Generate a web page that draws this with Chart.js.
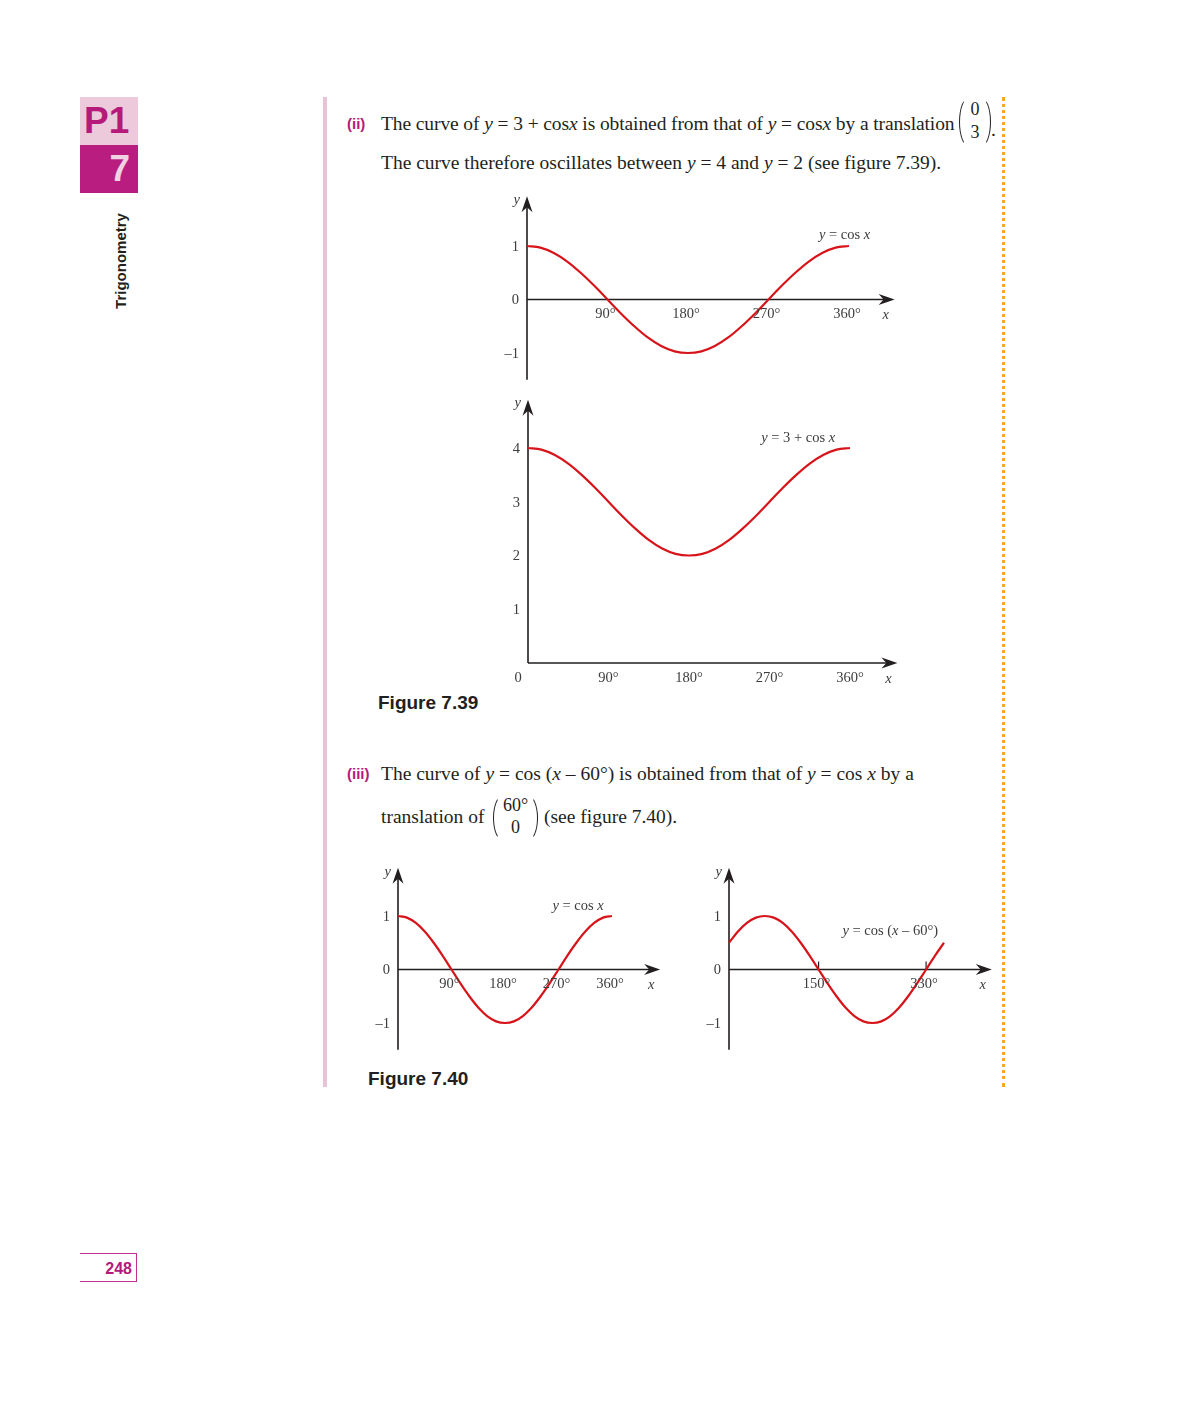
<!DOCTYPE html>
<html><head><meta charset="utf-8">
<script src="https://cdn.jsdelivr.net/npm/chart.js@4"></script>
<style>
body{margin:0;width:1200px;height:1403px;background:#fff;position:relative;overflow:hidden;font-family:"Liberation Serif","Times New Roman",serif;color:#231f20;}
.abs{position:absolute;white-space:nowrap;}
.txt{font-size:19.5px;line-height:24px;}
.lab{font-family:"Liberation Sans",Arial,sans-serif;font-weight:bold;color:#b5197a;font-size:15px;line-height:20px;}
.fig{font-family:"Liberation Sans",Arial,sans-serif;font-weight:bold;font-size:19px;line-height:22px;color:#231f20;}
i{font-style:italic;}
canvas{position:absolute;}
.mat{position:absolute;}
.mat:before,.mat:after{content:"";position:absolute;top:0;bottom:0;width:9px;border:1.5px solid #231f20;}
.mat:before{left:0;border-right:none;border-top-color:transparent;border-bottom-color:transparent;border-radius:100% 0 0 100% / 50% 0 0 50%;}
.mat:after{right:0;border-left:none;border-top-color:transparent;border-bottom-color:transparent;border-radius:0 100% 100% 0 / 0 50% 50% 0;}
.mat span{position:absolute;left:0;right:0;text-align:center;font-size:18px;line-height:20px;}
</style></head>
<body>
<!-- sidebar -->
<div class="abs" style="left:80px;top:97px;width:58px;height:48px;background:#eccadc;"></div>
<div class="abs" style="left:84px;top:99px;font-family:'Liberation Sans',Arial,sans-serif;font-weight:bold;font-size:37px;line-height:44px;color:#b5197a;">P1</div>
<div class="abs" style="left:80px;top:145px;width:58px;height:48px;background:#b91d7f;"></div>
<div class="abs" style="left:80px;top:147px;width:50px;text-align:right;font-family:'Liberation Sans',Arial,sans-serif;font-weight:bold;font-size:37px;line-height:44px;color:#f0d3e3;">7</div>
<div class="abs" style="left:120px;top:261px;transform:translate(-50%,-50%) rotate(-90deg);font-family:'Liberation Sans',Arial,sans-serif;font-weight:bold;font-size:15px;color:#231f20;">Trigonometry</div>
<div class="abs" style="left:80px;top:1253px;width:56px;height:27px;border-top:1.5px solid #c0308a;border-bottom:1.5px solid #c0308a;border-right:1.5px solid #c0308a;"></div>
<div class="abs" style="left:80px;top:1259px;width:52px;text-align:right;font-family:'Liberation Sans',Arial,sans-serif;font-weight:bold;font-size:16px;line-height:20px;color:#b5197a;">248</div>
<!-- rules -->
<div class="abs" style="left:323px;top:97px;width:4px;height:990px;background:#e8c3d8;"></div>
<div class="abs" style="left:1002px;top:97px;height:990px;border-left:3px dotted #f7a823;"></div>

<!-- text (ii) -->
<div class="abs lab" style="left:347px;top:114px;">(ii)</div>
<div class="abs txt" style="left:381px;top:112px;letter-spacing:-0.1px;">The curve of <i>y</i> = 3 + cos<i>x</i> is obtained from that of <i>y</i> = cos<i>x</i> by a translation</div>
<div class="mat" style="left:959px;top:97px;width:32px;height:50px;"><span style="top:2px;">0</span><span style="top:25px;">3</span></div>
<div class="abs txt" style="left:991px;top:118px;">.</div>
<div class="abs txt" style="left:381px;top:151px;">The curve therefore oscillates between <i>y</i> = 4 and <i>y</i> = 2 (see figure 7.39).</div>
<div class="abs fig" style="left:378px;top:692px;">Figure 7.39</div>

<!-- text (iii) -->
<div class="abs lab" style="left:347px;top:764px;">(iii)</div>
<div class="abs txt" style="left:381px;top:762px;">The curve of <i>y</i> = cos (<i>x</i> – 60°) is obtained from that of <i>y</i> = cos <i>x</i> by a</div>
<div class="abs txt" style="left:381px;top:805px;">translation of</div>
<div class="mat" style="left:493px;top:795px;width:45px;height:46px;"><span style="top:0px;">60°</span><span style="top:22px;">0</span></div>
<div class="abs txt" style="left:544px;top:805px;">(see figure 7.40).</div>
<div class="abs fig" style="left:368px;top:1068px;">Figure 7.40</div>

<canvas id="c1" width="450" height="210" style="left:460px;top:185px;"></canvas>
<canvas id="c2" width="450" height="300" style="left:460px;top:390px;"></canvas>
<canvas id="c3" width="330" height="210" style="left:350px;top:855px;"></canvas>
<canvas id="c4" width="330" height="210" style="left:680px;top:855px;"></canvas>

<script>
// ---------- data ----------
const angles = [0,15,30,45,60,75,90,105,120,135,150,165,180,195,210,225,240,255,270,285,300,315,330,345,360];
const cosValues = [1,0.97,0.87,0.71,0.5,0.26,0,-0.26,-0.5,-0.71,-0.87,-0.97,-1,-0.97,-0.87,-0.71,-0.5,-0.26,0,0.26,0.5,0.71,0.87,0.97,1];
const threePlusCosValues = [4,3.97,3.87,3.71,3.5,3.26,3,2.74,2.5,2.29,2.13,2.03,2,2.03,2.13,2.29,2.5,2.74,3,3.26,3.5,3.71,3.87,3.97,4];
const shiftedCosValues = [0.5,0.71,0.87,0.97,1,0.97,0.87,0.71,0.5,0.26,0,-0.26,-0.5,-0.71,-0.87,-0.97,-1,-0.97,-0.87,-0.71,-0.5,-0.26,0,0.26,0.5];

const xTickValuesStd = [90,180,270,360];
const xTickLabelsStd = ['90°','180°','270°','360°'];
const xTickValuesShift = [150,330];
const xTickLabelsShift = ['150°','330°'];
const yTickValuesCos = [1,0,-1];
const yTickLabelsCos = ['1','0','–1'];
const yTickValuesThree = [4,3,2,1];
const yTickLabelsThree = ['4','3','2','1'];

const RED = '#d7141a', INK = '#231f20', GREY = '#3c3c3c';
const FS = 14.5;

function arrow(ctx, tx, ty, dir){
  ctx.beginPath();
  if(dir==='right'){ ctx.moveTo(tx,ty); ctx.lineTo(tx-16,ty-5.5); ctx.lineTo(tx-11,ty); ctx.lineTo(tx-16,ty+5.5); }
  else { ctx.moveTo(tx,ty); ctx.lineTo(tx-5.5,ty+16); ctx.lineTo(tx,ty+11); ctx.lineTo(tx+5.5,ty+16); }
  ctx.closePath(); ctx.fill();
}
function richText(ctx, parts, cx, cy){
  let w = 0;
  parts.forEach(p=>{ ctx.font = (p.i?'italic ':'')+FS+'px "Liberation Serif"'; p.w = ctx.measureText(p.t).width; w += p.w; });
  let x = cx - w/2;
  ctx.textAlign='left'; ctx.textBaseline='middle';
  parts.forEach(p=>{ ctx.font = (p.i?'italic ':'')+FS+'px "Liberation Serif"'; ctx.fillText(p.t, x, cy); x += p.w; });
}

const axesPlugin = {
  id:'cosAxes',
  beforeDatasetsDraw(chart, args, o){
    const {ctx, scales:{x, y}} = chart;
    const ox = x.getPixelForValue(0), oy = y.getPixelForValue(0);
    const xEnd = x.getPixelForValue(o.xAxisEnd);
    const yTop = y.getPixelForValue(o.yAxisTop), yBot = y.getPixelForValue(o.yAxisBottom);
    ctx.save();
    ctx.strokeStyle = INK; ctx.fillStyle = INK; ctx.lineWidth = 1.6;
    ctx.beginPath();
    ctx.moveTo(ox, yBot); ctx.lineTo(ox, yTop+8);
    ctx.moveTo(ox, oy); ctx.lineTo(xEnd-8, oy);
    ctx.stroke();
    arrow(ctx, xEnd, oy, 'right');
    arrow(ctx, ox, yTop, 'up');
    if(o.tickMarks){
      ctx.lineWidth = 1.2;
      o.xTicks.forEach(v=>{ const px = x.getPixelForValue(v); ctx.beginPath(); ctx.moveTo(px, oy); ctx.lineTo(px, oy-8); ctx.stroke(); });
    }
    ctx.restore();
  },
  afterDatasetsDraw(chart, args, o){
    const {ctx, scales:{x, y}} = chart;
    const ox = x.getPixelForValue(0), oy = y.getPixelForValue(0);
    const xEnd = x.getPixelForValue(o.xAxisEnd);
    const yTop = y.getPixelForValue(o.yAxisTop);
    ctx.save();
    ctx.fillStyle = GREY;
    ctx.font = FS+'px "Liberation Serif"';
    ctx.textBaseline = 'middle';
    ctx.textAlign = 'center';
    o.xTicks.forEach((v,i)=>{ ctx.fillText(o.xLabels[i], x.getPixelForValue(v)+(o.xLabelDx||0), oy+15); });
    ctx.textAlign = 'right';
    o.yTicks.forEach((v,i)=>{ ctx.fillText(o.yLabels[i], ox-8, y.getPixelForValue(v)+1); });
    if(o.originBelow){ ctx.textAlign='center'; ctx.fillText('0', ox-10, oy+15); }
    ctx.font = 'italic '+FS+'px "Liberation Serif"';
    ctx.textAlign = 'right';
    ctx.fillText('y', ox-7, yTop+4);
    ctx.textAlign = 'center';
    ctx.fillText('x', xEnd-9, oy+16);
    ctx.fillStyle = GREY;
    richText(ctx, o.curveLabel, x.getPixelForValue(o.labelAt[0]), y.getPixelForValue(o.labelAt[1]));
    ctx.restore();
  }
};

function makeChart(id, values, pad, yMin, yMax, opts){
  return new Chart(document.getElementById(id), {
    type:'line',
    data:{ datasets:[{ data: angles.map((a,i)=>({x:a, y:values[i]})), borderColor:RED, borderWidth:2.2, pointRadius:0, cubicInterpolationMode:'monotone', clip:20, fill:false }] },
    options:{
      responsive:false, animation:false, devicePixelRatio:1,
      layout:{ padding:pad },
      scales:{ x:{ type:'linear', min:0, max:360, display:false }, y:{ type:'linear', min:yMin, max:yMax, display:false } },
      plugins:{ legend:{display:false}, tooltip:{enabled:false}, cosAxes: opts }
    },
    plugins:[axesPlugin]
  });
}

makeChart('c1', cosValues, {left:67, right:61, top:61, bottom:42}, -1, 1, {
  xAxisEnd:411, yAxisTop:1.93, yAxisBottom:-1.5,
  xTicks:xTickValuesStd, xLabels:xTickLabelsStd, xLabelDx:-2,
  yTicks:yTickValuesCos, yLabels:yTickLabelsCos,
  curveLabel:[{t:'y',i:true},{t:' = cos '},{t:'x',i:true}], labelAt:[355,1.21]
});
makeChart('c2', threePlusCosValues, {left:68, right:60, top:58, bottom:27}, 0, 4, {
  xAxisEnd:413, yAxisTop:4.9, yAxisBottom:0,
  xTicks:xTickValuesStd, xLabels:xTickLabelsStd, xLabelDx:0, originBelow:true,
  yTicks:yTickValuesThree, yLabels:yTickLabelsThree,
  curveLabel:[{t:'y',i:true},{t:' = 3 + cos '},{t:'x',i:true}], labelAt:[302,4.19]
});
makeChart('c3', cosValues, {left:48, right:68, top:61, bottom:42}, -1, 1, {
  xAxisEnd:441, yAxisTop:1.9, yAxisBottom:-1.5,
  xTicks:xTickValuesStd, xLabels:xTickLabelsStd, xLabelDx:-2,
  yTicks:yTickValuesCos, yLabels:yTickLabelsCos,
  curveLabel:[{t:'y',i:true},{t:' = cos '},{t:'x',i:true}], labelAt:[303,1.18]
});
makeChart('c4', shiftedCosValues, {left:49, right:66, top:61, bottom:42}, -1, 1, {
  xAxisEnd:440, yAxisTop:1.9, yAxisBottom:-1.5, tickMarks:true,
  xTicks:xTickValuesShift, xLabels:xTickLabelsShift, xLabelDx:-2,
  yTicks:yTickValuesCos, yLabels:yTickLabelsCos,
  curveLabel:[{t:'y',i:true},{t:' = cos ('},{t:'x',i:true},{t:' – 60°)'}], labelAt:[270,0.71]
});
</script>
</body></html>
